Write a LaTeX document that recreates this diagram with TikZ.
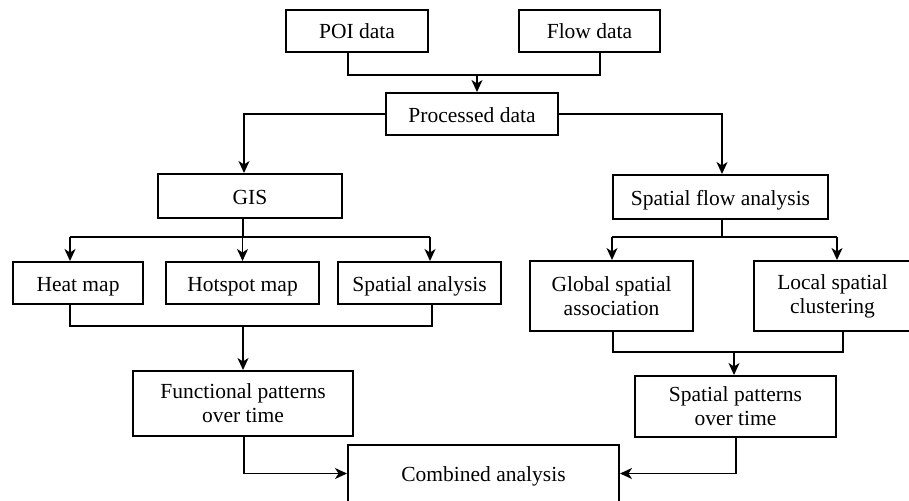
\documentclass[tikz,border=0pt]{standalone}
\usepackage{fontspec}
\setmainfont{Liberation Serif}
\usetikzlibrary{arrows.meta}
\begin{document}
\begin{tikzpicture}[x=1pt,y=-1pt,
  box/.style={draw,line width=2pt,inner sep=0pt,align=center,
    text height=17pt,text depth=1pt,
    font=\fontsize{21.5pt}{24pt}\selectfont},
  box2/.style={draw,line width=2pt,inner sep=0pt,align=center,
    font=\fontsize{21.5pt}{24pt}\selectfont},
  conn/.style={line width=1.2pt},
  arr/.style={line width=1.6pt,-{Stealth[length=12pt,width=11pt,inset=3.5pt]}}]
\useasboundingbox (0,0) rectangle (909,500);
\clip (0,0) rectangle (909,500);
% nodes
\node[box,minimum width=142pt,minimum height=42pt] (poi) at (357,31) {POI data};
\node[box,minimum width=141pt,minimum height=42pt] (flow) at (589.5,31) {Flow data};
\node[box,minimum width=172pt,minimum height=42pt] (proc) at (472,114) {Processed data};
\node[box,minimum width=184pt,minimum height=44pt] (gis) at (250,196) {GIS};
\node[box,minimum width=215pt,minimum height=44pt] (sfa) at (720.5,197) {Spatial flow analysis};
\node[box,minimum width=130pt,minimum height=42pt] (heat) at (78,283) {Heat map};
\node[box,minimum width=153pt,minimum height=42pt] (hot) at (242.5,283) {Hotspot map};
\node[box,minimum width=163pt,minimum height=42pt] (spa) at (419.5,283) {Spatial analysis};
\node[box2,minimum width=163pt,minimum height=70pt] (glob) at (611.5,296) {Global spatial\\association};
\node[box2,minimum width=157pt,minimum height=70pt] (loc) at (832.5,296) {Local spatial\\clustering};
\node[box2,minimum width=220pt,minimum height=65pt] (func) at (243,403.5) {Functional patterns\\over time};
\node[box2,minimum width=201pt,minimum height=61pt] (spp) at (735.5,406.5) {Spatial patterns\\over time};
\node[box,minimum width=271pt,minimum height=57pt] (comb) at (483.5,473.5) {Combined analysis};
% junction coordinates
\coordinate (j1) at (477,75);
\coordinate (j2) at (243,237);
\coordinate (j3) at (243,326);
\coordinate (j4) at (722,237);
\coordinate (j5) at (734,352);
% top merge
\draw[conn] ([xshift=-9pt]poi.south) |- (j1) -| ([xshift=10.5pt]flow.south);
\draw[arr] (j1) -- (j1 |- proc.north);
% processed to branches
\draw[arr] (proc.west) -| ([xshift=-6pt]gis.north);
\draw[arr] (proc.east) -| ([xshift=1.5pt]sfa.north);
% GIS fan-out
\draw[conn] ([xshift=-7pt]gis.south) -- (j2);
\draw[conn] ([xshift=-8pt]heat.north |- j2) -- ([xshift=10.5pt]spa.north |- j2);
\draw[arr] ([xshift=-8pt]heat.north |- j2) -- ([xshift=-8pt]heat.north);
\draw[arr] (j2) -- (j2 -| hot.north) -- (hot.north);
\draw[arr] ([xshift=10.5pt]spa.north |- j2) -- ([xshift=10.5pt]spa.north);
% GIS merge
\draw[conn] ([xshift=-8pt]heat.south) |- (j3) -| ([xshift=12.5pt]spa.south);
\draw[arr] (j3) -- (j3 |- func.north);
% SFA fan-out
\draw[conn] ([xshift=1.5pt]sfa.south) -- (j4);
\draw[conn] ([xshift=0.5pt]glob.north |- j4) -- ([xshift=4.5pt]loc.north |- j4);
\draw[arr] ([xshift=0.5pt]glob.north |- j4) -- ([xshift=0.5pt]glob.north);
\draw[arr] ([xshift=4.5pt]loc.north |- j4) -- ([xshift=4.5pt]loc.north);
% SFA merge
\draw[conn] ([xshift=1.5pt]glob.south) |- (j5) -| ([xshift=10.5pt]loc.south);
\draw[arr] (j5) -- (j5 |- spp.north);
% to combined
\draw[arr] ([xshift=1pt]func.south) |- (comb.west);
\draw[arr] ([xshift=0.5pt]spp.south) |- (comb.east);
\end{tikzpicture}
\end{document}
